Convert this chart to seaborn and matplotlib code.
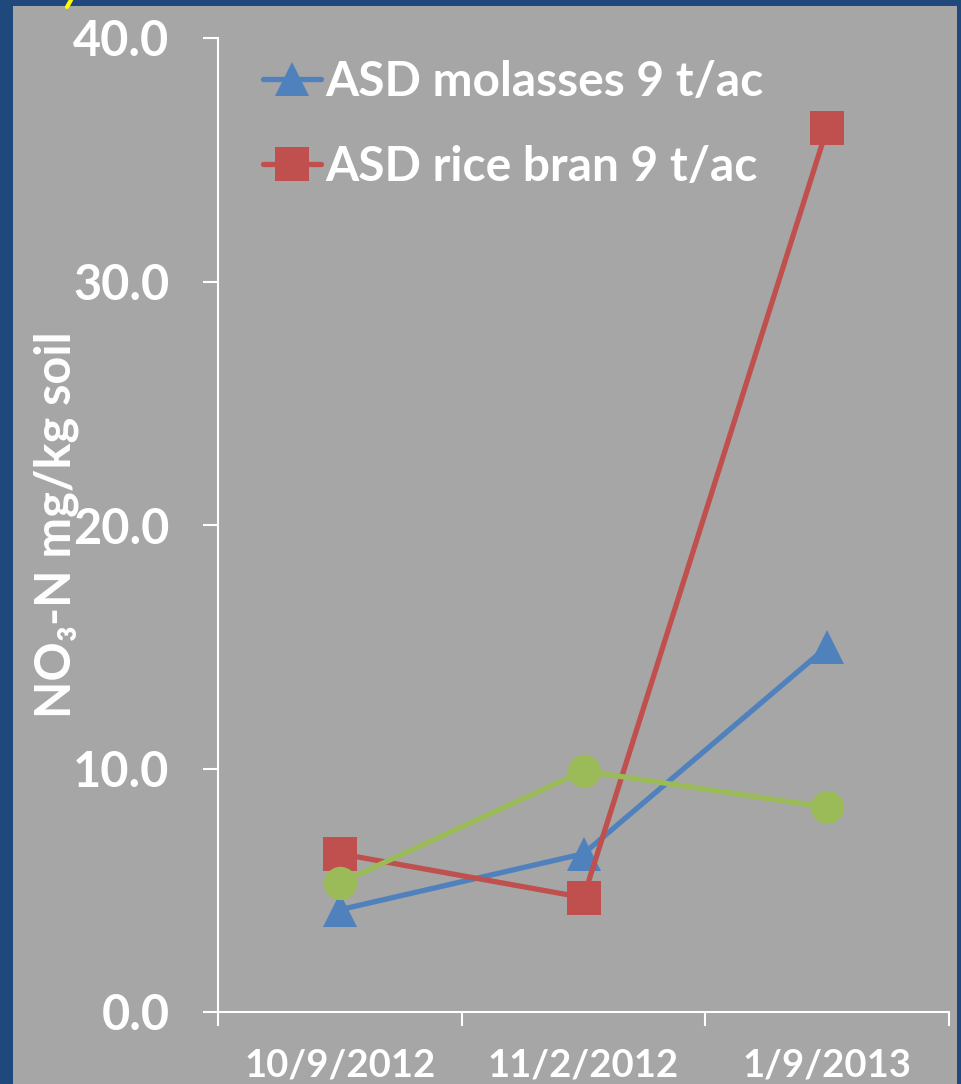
import matplotlib
matplotlib.use('Agg')
import matplotlib.pyplot as plt
import seaborn as sns
from matplotlib.patches import Rectangle
from matplotlib.lines import Line2D

# data
dates = ['10/9/2012', '11/2/2012', '1/9/2013']
molasses = [4.2, 6.5, 15.0]
rice_bran = [6.5, 4.7, 36.3]
third = [5.3, 9.9, 8.4]

series_names = ['ASD molasses 9 t/ac', 'ASD rice bran 9 t/ac', '_nolegend_']
series_vals = [molasses, rice_bran, third]
series_colors = ['#4F81BD', '#C0504D', '#9BBB59']
series_markers = ['^', 's', 'o']

sns.set_style('white')
plt.rcParams['font.family'] = ['Lato', 'DejaVu Sans']
plt.rcParams['font.weight'] = 'bold'

W, H = 961, 1084
fig = plt.figure(figsize=(W / 100, H / 100), dpi=100, facecolor='#1F497D')

# gray slide panel
fig.patches.append(Rectangle((13 / W, 0), (957 - 13) / W, (H - 6) / H,
                             transform=fig.transFigure, facecolor='#A6A6A6',
                             edgecolor='none', zorder=-10))
# little yellow stroke at top
fig.lines.append(Line2D([67 / W, 71 / W], [1 - 7 / H, 1.0], transform=fig.transFigure,
                        color='#FFFF00', linewidth=3, zorder=-5))

ax = fig.add_axes([218 / W, (H - 1012) / H, (949 - 218) / W, (1012 - 38) / H])
ax.set_facecolor('#A6A6A6')

for name, vals, col, mk in zip(series_names, series_vals, series_colors, series_markers):
    sns.lineplot(x=dates, y=vals, ax=ax, color=col, marker=mk, markersize=24,
                 markeredgewidth=0, linewidth=3.8, label=name, sort=False)

ax.set_xlim(-0.5, 2.5)
ax.set_ylim(0, 40)
ax.set_yticks([0, 10, 20, 30, 40])
ax.set_yticklabels([f'{v:.1f}' for v in [0, 10, 20, 30, 40]])

# category boundary ticks, labels in the middle
ax.set_xticks([-0.5, 0.5, 1.5, 2.5])
ax.set_xticklabels([])
ax.set_xticks([0, 1, 2], minor=True)
ax.set_xticklabels(dates, minor=True)
ax.tick_params(axis='x', which='major', direction='out', length=10, width=1.5,
               color='white', bottom=True)
ax.tick_params(axis='x', which='minor', length=0, pad=26, labelsize=27.5,
               labelcolor='white')
ax.tick_params(axis='y', direction='out', length=11, width=1.5, color='white',
               left=True, pad=24, labelsize=35, labelcolor='white')

for s in ['top', 'right']:
    ax.spines[s].set_visible(False)
for s in ['left', 'bottom']:
    ax.spines[s].set_color('white')
    ax.spines[s].set_linewidth(1.5)

ax.set_xlabel('')
ax.set_ylabel('NO₃-N mg/kg soil', fontsize=35, fontweight='bold', color='white')
ax.yaxis.set_label_coords(-0.19, 0.5)

leg = ax.legend(loc='upper left', bbox_to_anchor=(263 / W, 1 - 60 / H),
                bbox_transform=fig.transFigure, frameon=False, fontsize=34.5,
                handlelength=1.2, handletextpad=0.1, labelspacing=0.85,
                borderpad=0, borderaxespad=0)
for t in leg.get_texts():
    t.set_color('white')
    t.set_fontweight('bold')

fig.savefig('out.png', dpi=100, facecolor=fig.get_facecolor())
